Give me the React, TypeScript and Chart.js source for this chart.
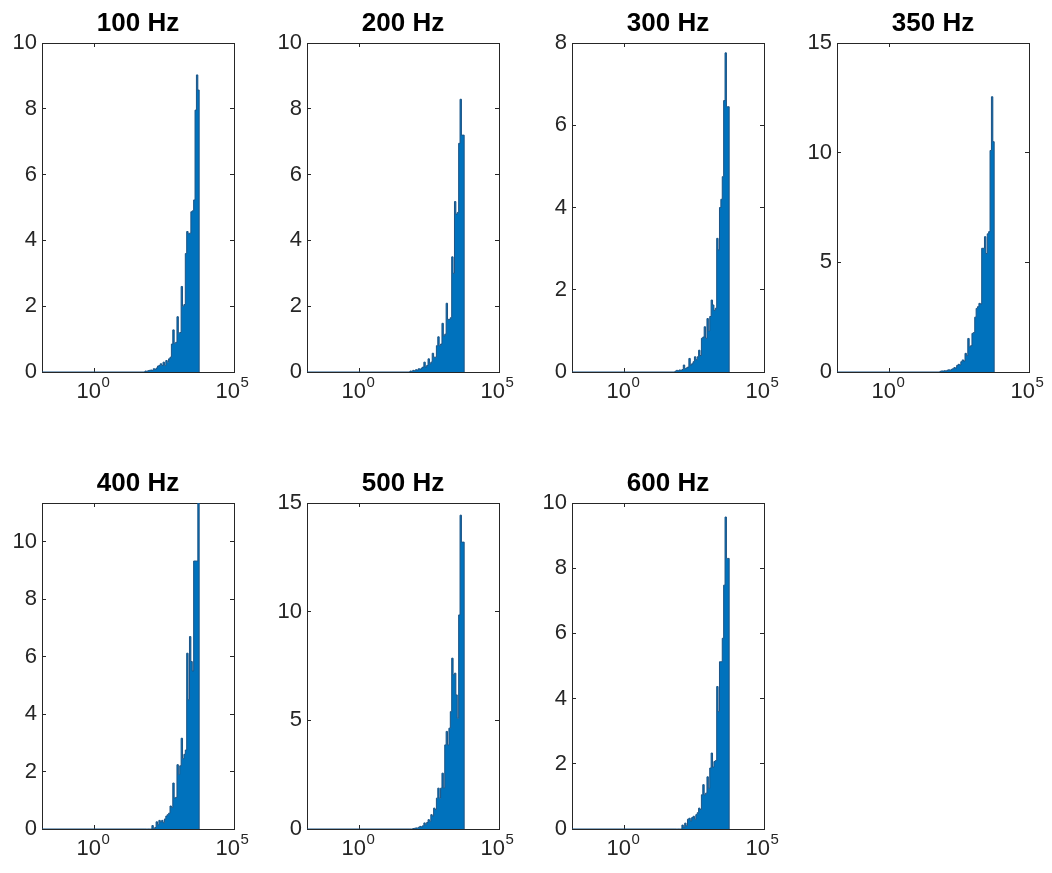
import React, { useEffect, useRef } from 'react';
import { Chart, registerables } from 'chart.js';

Chart.register(...registerables);

// ---------- data ----------
const TITLES = ['100 Hz', '200 Hz', '300 Hz', '350 Hz', '400 Hz', '500 Hz', '600 Hz'];

// histogram bins: log10 of the first bin's left edge and bin width (in decades)
const BIN_FIRST_EXP = 1.8;
const BIN_STEP_EXP = 0.05;

// x axis range (log10) and tick exponents
const X_MIN_EXP = -1.9;
const X_MAX_EXP = 5;
const X_TICK_EXPS = [0, 5];

const HZ100 = [0.03, 0.02, 0.04, 0.05, 0.06, 0.05, 0.1, 0.08, 0.12, 0.18, 0.2, 0.25, 0.2, 0.3, 0.2, 0.35, 0.3, 0.4, 0.45, 0.85, 1.28, 0.87, 0.9, 1.68, 1.18, 1.2, 2.6, 2.0, 2.05, 3.6, 4.27, 4.2, 4.22, 4.87, 4.9, 5.23, 7.96, 9.03, 8.57];
const HZ200 = [0.03, 0.02, 0.05, 0.04, 0.07, 0.06, 0.1, 0.08, 0.12, 0.15, 0.3, 0.15, 0.2, 0.4, 0.25, 0.3, 0.57, 0.45, 0.45, 0.8, 1.07, 0.8, 0.85, 1.48, 1.1, 1.15, 2.09, 1.6, 1.6, 1.65, 3.5, 3.0, 5.18, 4.8, 4.85, 6.95, 8.29, 7.2, 7.2];
const HZ300 = [0.02, 0.04, 0.03, 0.05, 0.04, 0.06, 0.17, 0.08, 0.1, 0.12, 0.33, 0.17, 0.2, 0.25, 0.37, 0.3, 0.37, 0.53, 0.4, 0.82, 0.85, 1.1, 0.82, 1.3, 1.0, 1.35, 1.75, 1.63, 1.5, 1.55, 3.25, 2.97, 4.0, 4.2, 4.75, 6.6, 7.76, 6.45, 6.45];
const HZ350 = [0.03, 0.05, 0.04, 0.06, 0.05, 0.08, 0.1, 0.08, 0.12, 0.15, 0.2, 0.18, 0.3, 0.35, 0.32, 0.47, 0.55, 0.5, 0.85, 0.75, 1.53, 1.15, 1.2, 1.76, 1.8, 2.5, 2.9, 2.98, 3.13, 3.1, 5.64, 5.64, 6.17, 5.4, 6.3, 6.4, 10.1, 12.55, 10.5];
const HZ400 = [0, 0, 0, 0, 0, 0.12, 0, 0.05, 0.25, 0.15, 0.3, 0.25, 0.3, 0.22, 0.35, 0.45, 0.5, 0.55, 0.8, 0.75, 1.6, 1.08, 1.1, 2.24, 1.9, 2.2, 3.16, 2.45, 2.6, 2.75, 6.12, 4.5, 6.7, 5.83, 5.5, 9.33, 9.33, 9.33, 11.35];
const HZ500 = [0, 0, 0.02, 0.03, 0.05, 0.04, 0.08, 0.12, 0.1, 0.15, 0.28, 0.2, 0.3, 0.43, 0.35, 0.66, 0.6, 0.96, 0.9, 1.42, 1.88, 1.42, 1.88, 2.57, 1.9, 3.87, 4.49, 3.87, 4.64, 5.4, 7.86, 7.1, 7.17, 6.17, 5.1, 9.85, 14.44, 13.2, 13.2];
const HZ600 = [0, 0, 0, 0, 0, 0.12, 0.05, 0.18, 0.1, 0.3, 0.33, 0.25, 0.35, 0.39, 0.3, 0.44, 0.5, 0.64, 0.6, 1.05, 1.36, 1.05, 1.1, 1.6, 1.25, 1.87, 2.33, 1.9, 2.07, 2.1, 4.37, 3.6, 5.13, 5.13, 5.85, 7.48, 9.57, 8.3, 8.3];

const SERIES = [HZ100, HZ200, HZ300, HZ350, HZ400, HZ500, HZ600];

const Y_MAX = [10, 10, 8, 15, 11.35, 15, 10];
const Y_TICKS_10 = [0, 2, 4, 6, 8, 10];
const Y_TICKS_8 = [0, 2, 4, 6, 8];
const Y_TICKS_15 = [0, 5, 10, 15];
const Y_TICKS = [Y_TICKS_10, Y_TICKS_10, Y_TICKS_8, Y_TICKS_15, Y_TICKS_10, Y_TICKS_15, Y_TICKS_10];

// ---------- layout & style ----------
const COL_LEFT = [42, 307, 572, 837];
const ROW_TOP = [43, 503];
const ROW_BOTTOM = [372, 829];
const AX_W = 192;
const LEFT_ROOM = 45;
const RIGHT_ROOM = 30;
const TOP_ROOM = 43;
const BOTTOM_ROOM = 45;

const FONT = "'Liberation Sans', Arial, Helvetica, sans-serif";
const AXIS_COLOR = '#262626';
const FILL_COLOR = '#0072BD';
const EDGE_COLOR = '#1a5486';

const powerLabels = {
  id: 'powerLabels',
  afterDraw(chart: any) {
    const sc = chart.scales.x;
    const { ctx, chartArea } = chart;
    ctx.save();
    ctx.fillStyle = AXIS_COLOR;
    ctx.textBaseline = 'alphabetic';
    ctx.textAlign = 'left';
    for (const e of X_TICK_EXPS) {
      const px = sc.getPixelForValue(Math.pow(10, e));
      ctx.font = `22px ${FONT}`;
      const wb = ctx.measureText('10').width;
      ctx.font = `15px ${FONT}`;
      const sup = String(e);
      const ws = ctx.measureText(sup).width;
      const x0 = px - (wb + ws) / 2 - 2;
      ctx.font = `22px ${FONT}`;
      ctx.fillText('10', x0, chartArea.bottom + 26);
      ctx.font = `15px ${FONT}`;
      ctx.fillText(sup, x0 + wb + 0.5, chartArea.bottom + 15);
    }
    ctx.restore();
  },
};

function Panel({ idx }: { idx: number }) {
  const ref = useRef<HTMLCanvasElement | null>(null);
  const row = idx < 4 ? 0 : 1;
  const col = idx < 4 ? idx : idx - 4;
  const axLeft = COL_LEFT[col];
  const axTop = ROW_TOP[row];
  const axBottom = ROW_BOTTOM[row];
  const L = axLeft - LEFT_ROOM;
  const T = axTop - TOP_ROOM;
  const W = LEFT_ROOM + AX_W + RIGHT_ROOM;
  const H = axBottom - T + BOTTOM_ROOM;

  useEffect(() => {
    if (!ref.current) return;
    const values = SERIES[idx];
    const points: { x: number; y: number }[] = [{ x: Math.pow(10, X_MIN_EXP), y: 0 }];
    values.forEach((v, i) => points.push({ x: Math.pow(10, BIN_FIRST_EXP + i * BIN_STEP_EXP), y: v }));
    points.push({ x: Math.pow(10, BIN_FIRST_EXP + values.length * BIN_STEP_EXP), y: 0 });
    const yTicks = Y_TICKS[idx];
    const yMax = Y_MAX[idx];

    const tickGrid = { drawOnChartArea: false, drawTicks: true, tickLength: -4, color: AXIS_COLOR, lineWidth: 1 };
    const border = { display: true, color: AXIS_COLOR, width: 1 };
    const xTicks = (s: any) => { s.ticks = X_TICK_EXPS.map((e) => ({ value: Math.pow(10, e) })); };
    const yTickSet = (s: any) => { s.ticks = yTicks.map((v) => ({ value: v })); };

    const chart = new Chart(ref.current, {
      type: 'line',
      data: {
        datasets: [
          {
            data: points,
            stepped: true,
            fill: 'origin',
            backgroundColor: FILL_COLOR,
            borderColor: EDGE_COLOR,
            borderWidth: 1,
            pointRadius: 0,
            xAxisID: 'x',
            yAxisID: 'y',
          } as any,
        ],
      },
      options: {
        animation: false,
        responsive: false,
        events: [],
        layout: { padding: { top: 11, left: 0, right: RIGHT_ROOM, bottom: BOTTOM_ROOM } },
        plugins: {
          legend: { display: false },
          tooltip: { enabled: false },
          title: {
            display: true,
            text: TITLES[idx],
            color: '#000000',
            fullSize: false,
            font: { family: FONT, size: 26, weight: 'bold', lineHeight: 1 },
            padding: { top: 0, bottom: 6 },
          },
        },
        scales: {
          x: {
            type: 'logarithmic',
            position: 'bottom',
            min: Math.pow(10, X_MIN_EXP),
            max: Math.pow(10, X_MAX_EXP),
            afterBuildTicks: xTicks,
            afterFit: (s: any) => { s.height = 0; },
            ticks: { display: false },
            grid: tickGrid,
            border,
          },
          xTop: {
            type: 'logarithmic',
            position: 'top',
            min: Math.pow(10, X_MIN_EXP),
            max: Math.pow(10, X_MAX_EXP),
            afterBuildTicks: xTicks,
            afterFit: (s: any) => { s.height = 0; },
            ticks: { display: false },
            grid: tickGrid,
            border,
          },
          y: {
            type: 'linear',
            position: 'left',
            min: 0,
            max: yMax,
            afterBuildTicks: yTickSet,
            afterFit: (s: any) => { s.width = LEFT_ROOM; },
            ticks: { color: AXIS_COLOR, font: { family: FONT, size: 22 }, padding: 9 },
            grid: tickGrid,
            border,
          },
          y2: {
            type: 'linear',
            position: 'right',
            min: 0,
            max: yMax,
            afterBuildTicks: yTickSet,
            afterFit: (s: any) => { s.width = 0; },
            ticks: { display: false },
            grid: tickGrid,
            border,
          },
        },
      } as any,
      plugins: [powerLabels],
    });
    return () => chart.destroy();
  }, [idx]);

  return (
    <canvas
      ref={ref}
      width={W}
      height={H}
      style={{ position: 'absolute', left: L, top: T, width: W, height: H }}
    />
  );
}

export default function App() {
  return (
    <div style={{ position: 'absolute', left: 0, top: 0, width: 1052, height: 873, background: '#ffffff', overflow: 'hidden' }}>
      {TITLES.map((_, i) => (
        <Panel key={i} idx={i} />
      ))}
    </div>
  );
}
